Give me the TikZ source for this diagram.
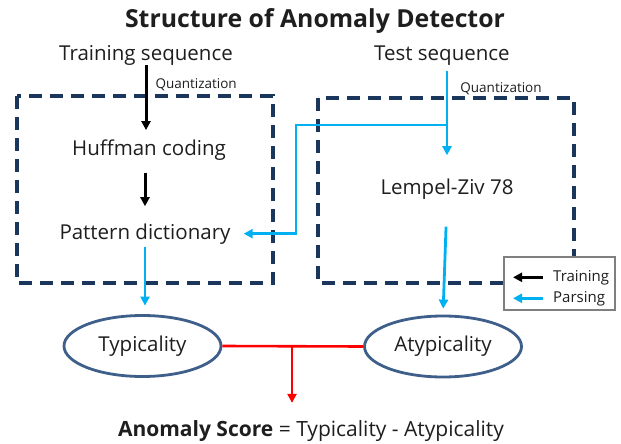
\documentclass[tikz,border=0pt]{standalone}
\usepackage{fontspec}
\setmainfont{Open Sans}
\usetikzlibrary{shapes.geometric,arrows.meta,positioning}

\definecolor{boxnavy}{HTML}{1B365D}
\definecolor{parseblue}{HTML}{00B0F0}
\definecolor{ovalblue}{HTML}{3E5F8A}
\definecolor{legendgray}{HTML}{7F7F7F}
\definecolor{inkgray}{HTML}{1E1E1E}

\tikzset{
  txt/.style={font=\fontsize{20.5}{22}\selectfont, text=inkgray, inner sep=0pt, anchor=base},
  tag/.style={font=\fontsize{13.5}{15}\selectfont, text=inkgray, inner sep=0pt},
  legtxt/.style={font=\fontsize{15}{17}\selectfont, text=inkgray, inner sep=0pt, anchor=base west},
  group/.style={draw=boxnavy, line width=3.2pt, dash pattern=on 13pt off 8pt},
  oval/.style={ellipse, draw=ovalblue, line width=2.8pt, inner sep=0pt, text=inkgray,
    minimum width=157pt, minimum height=61pt, font=\fontsize{20.5}{22}\selectfont},
  trainarrow/.style={-{Triangle[length=9pt,width=9pt]}, line width=3pt, black},
  parsearrow/.style={-{Triangle[length=9pt,width=9pt]}, line width=2.8pt, parseblue},
  scoreline/.style={line width=2.6pt, red},
  scorearrow/.style={-{Triangle[length=9pt,width=9pt]}, line width=2.6pt, red},
}

\begin{document}
\begin{tikzpicture}[x=1pt,y=1pt]
  \useasboundingbox (0,0) rectangle (621,-444);

  % dashed groups
  \draw[group] (17,-96) rectangle (273,-283);
  \draw[group] (318,-98) rectangle (574,-283);

  \node[font=\bfseries\fontsize{24.8}{27}\selectfont, text=inkgray, inner sep=0pt, anchor=base] (title) at (315,-28) {Structure of Anomaly Detector};
  \node[txt] (trainseq) at (146,-60) {Training sequence};
  \node[txt] (testseq) at (442,-61) {Test sequence};
  \node[txt] (huff) at (149,-155) {Huffman coding};
  \node[txt] (dict) at (145,-239) {Pattern dictionary};
  \node[txt] (lz) at (447,-194) {Lempel-Ziv 78};
  \node[oval] (typ) at (142.5,-346) {Typicality};
  \node[oval] (atyp) at (443,-346.5) {Atypicality};
  \node[txt, font=\fontsize{21}{23}\selectfont] (score) at (311,-436) {\textbf{Anomaly Score} = Typicality - Atypicality};

  % training path
  \path[trainarrow]
    (trainseq.south) edge[shorten >=9pt] node[tag, pos=0.27, right=8pt] {Quantization} (trainseq.south |- huff.north)
    (dict.north |- huff.south) edge[shorten <=12.5pt, shorten >=17pt] (dict.north);

  % parsing path
  \coordinate (split) at (447,-125);
  \coordinate (elbow) at (296,-125);
  \path[parsearrow]
    (testseq.south -| lz.north) edge[shorten <=4.5pt, shorten >=23pt] node[tag, pos=0.2, right=12pt] {Quantization} (lz.north)
    (dict.south) edge[shorten <=2.5pt, shorten >=8.5pt] (dict.south |- typ.north)
    (lz.south) edge[shorten <=27.5pt, shorten >=6pt] (atyp.north);
  \draw[parsearrow, shorten >=13pt] (split) -- (elbow) |- (dict.east);

  % score
  \coordinate (join) at (292,-347);
  \draw[scoreline] (typ.east) -- (atyp.west);
  \draw[scorearrow, shorten >=17pt] (join) -- (join |- score.north);

  % legend
  \node[draw=legendgray, line width=1.8pt, fill=white, minimum width=111pt, minimum height=53pt, inner sep=0pt] (legend) at (559.5,-283.5) {};
  \node[legtxt] (ltrain) at (553,-281) {Training};
  \node[legtxt] (lparse) at (553,-302) {Parsing};
  \draw[trainarrow] ([xshift=-10pt]ltrain.west) -- ++(-30,0);
  \draw[parsearrow] ([xshift=-10pt]lparse.west) -- ++(-30,0);
\end{tikzpicture}
\end{document}
